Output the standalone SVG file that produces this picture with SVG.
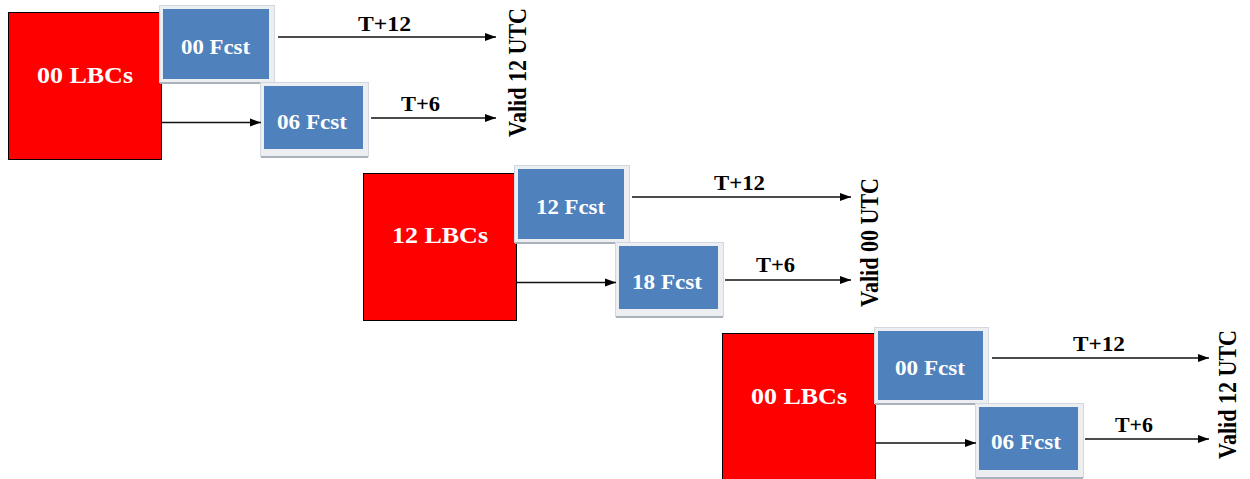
<svg xmlns="http://www.w3.org/2000/svg" width="1250" height="479" viewBox="0 0 1250 479">
<style>
.lbc{fill:#ff0000;stroke:#000;stroke-width:1}
.frame{fill:#eceef2;stroke:#d3d8de;stroke-width:1}
.shadow{stroke:#a9b1ba;stroke-width:2}
.fc{fill:#4f81bd}
.wt{font-family:"Liberation Serif","Times New Roman",serif;font-weight:bold;fill:#fff}
.bt{font-family:"Liberation Serif","Times New Roman",serif;font-weight:bold;fill:#000}
.conn{stroke:#111;stroke-width:1.3;fill:none;marker-end:url(#ah)}
</style>
<defs>
<marker id="ah" markerUnits="userSpaceOnUse" markerWidth="12" markerHeight="9" refX="11" refY="4.5" orient="auto">
<path d="M0,0.5 L11,4.5 L0,8.5 z" fill="#000"/>
</marker>
</defs>
<rect width="1250" height="479" fill="#fff"/>

<!-- Group 1 -->
<g id="lbc00a">
<rect class="lbc" x="8.5" y="12.5" width="153" height="147"/>
<text class="wt" x="85" y="83" font-size="23" text-anchor="middle" textLength="96" lengthAdjust="spacingAndGlyphs">00 LBCs</text>
</g>
<g id="fcst00a">
<rect class="frame" x="159.5" y="5.5" width="115" height="77"/>
<line class="shadow" x1="160" y1="83" x2="262" y2="83"/>
<rect class="fc" x="163" y="9" width="106" height="70"/>
<text class="wt" x="215.5" y="54" font-size="20" text-anchor="middle" textLength="69" lengthAdjust="spacingAndGlyphs">00 Fcst</text>
</g>
<g id="fcst06a">
<rect class="frame" x="260.5" y="82.5" width="108" height="74"/>
<line class="shadow" x1="261" y1="157" x2="368" y2="157"/>
<rect class="fc" x="264" y="86" width="99" height="63"/>
<text class="wt" x="312" y="129" font-size="20" text-anchor="middle" textLength="70" lengthAdjust="spacingAndGlyphs">06 Fcst</text>
</g>
<g id="valid12a">
<text class="bt" transform="translate(526,72.5) scale(1.15,1) rotate(-90)" font-size="21" text-anchor="middle" textLength="129" lengthAdjust="spacingAndGlyphs">Valid 12 UTC</text>
</g>

<!-- Group 2 -->
<g id="lbc12">
<rect class="lbc" x="363.5" y="173.5" width="153" height="147"/>
<text class="wt" x="440" y="243" font-size="23" text-anchor="middle" textLength="96" lengthAdjust="spacingAndGlyphs">12 LBCs</text>
</g>
<g id="fcst12">
<rect class="frame" x="514.5" y="165.5" width="115" height="77"/>
<line class="shadow" x1="515" y1="243" x2="617" y2="243"/>
<rect class="fc" x="518" y="169" width="106" height="70"/>
<text class="wt" x="570.5" y="214" font-size="20" text-anchor="middle" textLength="69" lengthAdjust="spacingAndGlyphs">12 Fcst</text>
</g>
<g id="fcst18">
<rect class="frame" x="615.5" y="242.5" width="108" height="74"/>
<line class="shadow" x1="616" y1="317" x2="723" y2="317"/>
<rect class="fc" x="619" y="246" width="99" height="63"/>
<text class="wt" x="667" y="289" font-size="20" text-anchor="middle" textLength="70" lengthAdjust="spacingAndGlyphs">18 Fcst</text>
</g>
<g id="valid00">
<text class="bt" transform="translate(878,242.5) scale(1.15,1) rotate(-90)" font-size="21" text-anchor="middle" textLength="129" lengthAdjust="spacingAndGlyphs">Valid 00 UTC</text>
</g>

<!-- Group 3 -->
<g id="lbc00b">
<rect class="lbc" x="722.5" y="333.5" width="153" height="147"/>
<text class="wt" x="799" y="404" font-size="23" text-anchor="middle" textLength="96" lengthAdjust="spacingAndGlyphs">00 LBCs</text>
</g>
<g id="fcst00b">
<rect class="frame" x="874.5" y="327.5" width="114" height="76"/>
<line class="shadow" x1="875" y1="404" x2="977" y2="404"/>
<rect class="fc" x="878" y="331" width="105" height="69"/>
<text class="wt" x="930" y="375" font-size="20" text-anchor="middle" textLength="70" lengthAdjust="spacingAndGlyphs">00 Fcst</text>
</g>
<g id="fcst06b">
<rect class="frame" x="975.5" y="403.5" width="108" height="74"/>
<line class="shadow" x1="976" y1="478" x2="1083" y2="478"/>
<rect class="fc" x="979" y="407" width="99" height="63"/>
<text class="wt" x="1026" y="449" font-size="20" text-anchor="middle" textLength="70" lengthAdjust="spacingAndGlyphs">06 Fcst</text>
</g>
<g id="valid12b">
<text class="bt" transform="translate(1236,394.5) scale(1.15,1) rotate(-90)" font-size="21" text-anchor="middle" textLength="129" lengthAdjust="spacingAndGlyphs">Valid 12 UTC</text>
</g>

<!-- Connectors -->
<g id="connectors">
<path class="conn" d="M162,122.5 H261"/>
<path class="conn" d="M278,37 H496"/>
<path class="conn" d="M371,118 H496"/>
<path class="conn" d="M517,282.5 H616"/>
<path class="conn" d="M632,197 H851"/>
<path class="conn" d="M725,280 H851"/>
<path class="conn" d="M876,443 H976"/>
<path class="conn" d="M992,358 H1209"/>
<path class="conn" d="M1085,439 H1209"/>
<text class="bt" x="384.5" y="31" font-size="20" text-anchor="middle" textLength="53" lengthAdjust="spacingAndGlyphs">T+12</text>
<text class="bt" x="420.5" y="111" font-size="20" text-anchor="middle" textLength="39" lengthAdjust="spacingAndGlyphs">T+6</text>
<text class="bt" x="739.5" y="190" font-size="20" text-anchor="middle" textLength="51" lengthAdjust="spacingAndGlyphs">T+12</text>
<text class="bt" x="775.5" y="272" font-size="20" text-anchor="middle" textLength="39" lengthAdjust="spacingAndGlyphs">T+6</text>
<text class="bt" x="1099" y="351" font-size="20" text-anchor="middle" textLength="52" lengthAdjust="spacingAndGlyphs">T+12</text>
<text class="bt" x="1134" y="432" font-size="20" text-anchor="middle" textLength="38" lengthAdjust="spacingAndGlyphs">T+6</text>
</g>
</svg>
